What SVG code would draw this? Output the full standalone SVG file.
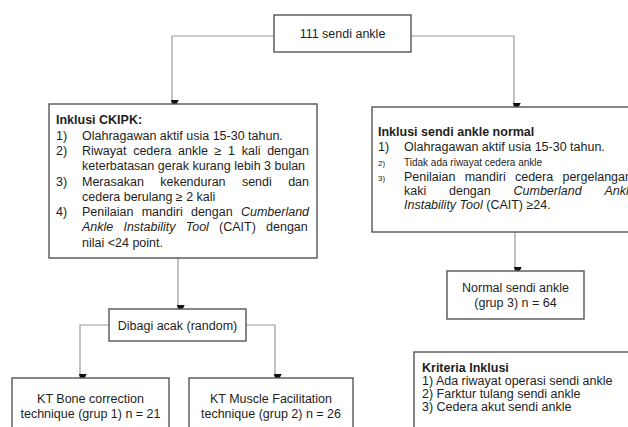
<svg xmlns="http://www.w3.org/2000/svg" width="628" height="427" viewBox="0 0 628 427">
<defs>
<marker id="ah" markerUnits="userSpaceOnUse" markerWidth="8" markerHeight="8" refX="3" refY="5" orient="auto-start-reverse" viewBox="0 0 6 6">
<path d="M0,0 L6,3 L0,6 Z" fill="#111"/>
</marker>
<style>
text{font-family:"Liberation Sans",Arial,sans-serif;font-size:12.5px;fill:#1e1e1e}
.b{font-weight:bold}
.i{font-style:italic}
.c{text-anchor:middle}
.box{fill:#fff;stroke:#555;stroke-width:1.4}
.cn{fill:none;stroke:#999;stroke-width:1.2}
.sm{font-size:10px}
.xs{font-size:8px}
</style>
</defs>
<rect width="628" height="427" fill="#fff"/>
<g id="connectors">
<path class="cn" d="M274,36 H172 V104" marker-end="url(#ah)"/>
<path class="cn" d="M411,36 H514 V107" marker-end="url(#ah)"/>
<path class="cn" d="M178,258 V309" marker-end="url(#ah)"/>
<path class="cn" d="M515,232 V271" marker-end="url(#ah)"/>
<path class="cn" d="M109,325 H80 V378" marker-end="url(#ah)"/>
<path class="cn" d="M246,325 H275 V378" marker-end="url(#ah)"/>
</g>
<g id="n-top">
<rect class="box" x="274" y="15" width="137" height="37"/>
<text class="c" x="342.5" y="38">111 sendi ankle</text>
</g>
<g id="n-ckipk">
<rect class="box" x="49" y="104" width="268" height="154"/>
<text class="b" x="56" y="124">Inklusi CKIPK:</text>
<text x="56" y="139.5">1)</text>
<text x="82" y="139.5">Olahragawan aktif usia 15-30 tahun.</text>
<text x="56" y="155">2)</text>
<text x="82" y="155" word-spacing="3.2">Riwayat cedera ankle ≥ 1 kali dengan</text>
<text x="82" y="170">keterbatasan gerak kurang lebih 3 bulan</text>
<text x="56" y="185.5">3)</text>
<text x="82" y="185.5" word-spacing="12.9">Merasakan kekenduran sendi dan</text>
<text x="82" y="201">cedera berulang ≥ 2 kali</text>
<text x="56" y="216">4)</text>
<text x="82" y="216" word-spacing="4.8">Penilaian mandiri dengan <tspan class="i">Cumberland</tspan></text>
<text x="82" y="231" word-spacing="6.7"><tspan class="i">Ankle Instability Tool</tspan> (CAIT) dengan</text>
<text x="82" y="246.5">nilai &lt;24 point.</text>
</g>
<g id="n-normal-incl">
<rect class="box" x="372" y="107" width="268" height="125"/>
<text class="b" x="378" y="136">Inklusi sendi ankle normal</text>
<text x="378" y="151">1)</text>
<text x="404" y="151">Olahragawan aktif usia 15-30 tahun.</text>
<text class="xs" x="378" y="166">2)</text>
<text class="sm" x="404" y="166">Tidak ada riwayat cedera ankle</text>
<text class="xs" x="378" y="180.5">3)</text>
<text x="404" y="180.5" word-spacing="5.8">Penilaian mandiri cedera pergelangan</text>
<text x="404" y="195" word-spacing="19.3">kaki dengan <tspan class="i">Cumberland</tspan> <tspan class="i">Ankle</tspan></text>
<text x="404" y="209"><tspan class="i">Instability Tool</tspan> (CAIT) ≥24.</text>
</g>
<g id="n-random">
<rect class="box" x="109" y="309" width="137" height="32"/>
<text class="c" x="177.5" y="329.5">Dibagi acak (random)</text>
</g>
<g id="n-grup3">
<rect class="box" x="447" y="271" width="137" height="48"/>
<text class="c" x="515.5" y="292">Normal sendi ankle</text>
<text class="c" x="515.5" y="307">(grup 3) n = 64</text>
</g>
<g id="n-grup1">
<rect class="box" x="12" y="378" width="157" height="60"/>
<text class="c" x="90.5" y="403">KT Bone correction</text>
<text class="c" x="90.5" y="418">technique (grup 1) n = 21</text>
</g>
<g id="n-grup2">
<rect class="box" x="189" y="378" width="164" height="60"/>
<text class="c" x="271" y="403">KT Muscle Facilitation</text>
<text class="c" x="271" y="418">technique (grup 2) n = 26</text>
</g>
<g id="n-kriteria">
<rect class="box" x="414" y="352" width="230" height="90"/>
<text class="b" x="422" y="371.5">Kriteria Inklusi</text>
<text x="422" y="385">1) Ada riwayat operasi sendi ankle</text>
<text x="422" y="398">2) Farktur tulang sendi ankle</text>
<text x="422" y="411">3) Cedera akut sendi ankle</text>
</g>
</svg>
